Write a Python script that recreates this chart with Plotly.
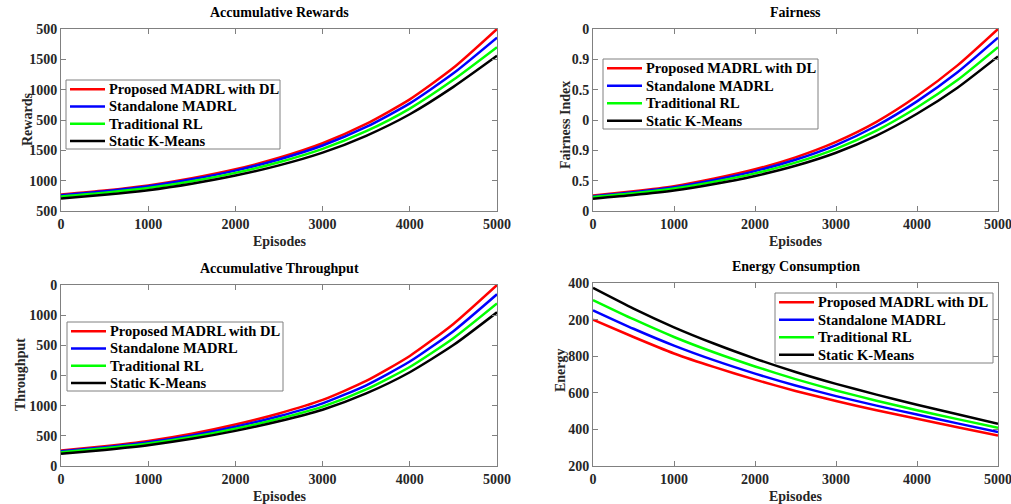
import plotly.graph_objects as go

episodes = [0, 500, 1000, 1500, 2000, 2500, 3000, 3500, 4000, 4500, 5000]
series_names = ["Proposed MADRL with DL", "Standalone MADRL", "Traditional RL", "Static K-Means"]
colors = ["#ff0000", "#0000ff", "#00ff00", "#000000"]

# Accumulative Rewards
rewards_proposed = [772, 838, 922, 1040, 1188, 1377, 1617, 1935, 2340, 2860, 3500]
rewards_standalone = [761, 826, 907, 1022, 1166, 1350, 1580, 1885, 2275, 2770, 3358]
rewards_traditional = [740, 802, 880, 990, 1128, 1303, 1523, 1815, 2188, 2662, 3200]
rewards_kmeans = [707, 767, 843, 950, 1084, 1252, 1462, 1740, 2095, 2546, 3058]
rewards_ticks = [500, 1000, 1500, 2000, 2500, 3000, 3500]
rewards_ticktext = ["500", "1000", "1500", "500", "1000", "1500", "500"]

# Fairness
fair_proposed = [0.102, 0.130, 0.164, 0.214, 0.275, 0.354, 0.456, 0.588, 0.758, 0.960, 1.200]
fair_standalone = [0.098, 0.124, 0.157, 0.205, 0.263, 0.338, 0.435, 0.562, 0.723, 0.915, 1.143]
fair_traditional = [0.092, 0.117, 0.148, 0.193, 0.248, 0.319, 0.410, 0.530, 0.682, 0.863, 1.080]
fair_kmeans = [0.081, 0.105, 0.135, 0.178, 0.231, 0.298, 0.384, 0.497, 0.641, 0.813, 1.019]
fair_ticks = [0, 0.2, 0.4, 0.6, 0.8, 1.0, 1.2]
fair_ticktext = ["0", "0.5", "0.9", "0", "0.5", "0.9", "0"]

# Accumulative Throughput
thr_proposed = [255, 327, 414, 534, 687, 870, 1095, 1410, 1824, 2355, 3000]
thr_standalone = [246, 312, 393, 507, 651, 825, 1038, 1338, 1731, 2235, 2847]
thr_traditional = [228, 294, 372, 480, 618, 783, 984, 1269, 1641, 2118, 2694]
thr_kmeans = [201, 267, 345, 450, 582, 741, 933, 1203, 1554, 2004, 2547]
thr_ticks = [0, 500, 1000, 1500, 2000, 2500, 3000]
thr_ticktext = ["0", "500", "1000", "0", "500", "1000", "0"]

# Energy Consumption
energy_proposed = [1000, 905, 815, 740, 672, 610, 555, 505, 458, 412, 366]
energy_standalone = [1051, 950, 858, 777, 705, 640, 582, 530, 481, 433, 385]
energy_traditional = [1107, 1002, 905, 820, 744, 675, 613, 557, 505, 456, 409]
energy_kmeans = [1173, 1060, 958, 868, 787, 714, 649, 590, 535, 483, 431]
energy_ticks = [200, 400, 600, 800, 1000, 1200]
energy_ticktext = ["200", "400", "600", "800", "200", "400"]

x_ticks = [0, 1000, 2000, 3000, 4000, 5000]

W, H = 1011, 504
FONT = "Liberation Serif"

panels = [
    dict(title="Accumulative Rewards", ylabel="Rewards",
         data=[rewards_proposed, rewards_standalone, rewards_traditional, rewards_kmeans],
         ticks=rewards_ticks, ticktext=rewards_ticktext, yr=[500, 3500],
         px=(61, 497), py=(29, 211), leg=(66, 80, 280, 149), ytx=(27, 120), by=241),
    dict(title="Fairness", ylabel="Fairness Index",
         data=[fair_proposed, fair_standalone, fair_traditional, fair_kmeans],
         ticks=fair_ticks, ticktext=fair_ticktext, yr=[0, 1.2],
         px=(593, 998), py=(29, 211), leg=(603, 59, 818, 129), ytx=(565, 125), by=241),
    dict(title="Accumulative Throughput", ylabel="Throughput",
         data=[thr_proposed, thr_standalone, thr_traditional, thr_kmeans],
         ticks=thr_ticks, ticktext=thr_ticktext, yr=[0, 3000],
         px=(61, 497), py=(285, 466), leg=(67, 322, 283, 391), ytx=(20, 375), by=496),
    dict(title="Energy Consumption", ylabel="Energy",
         data=[energy_proposed, energy_standalone, energy_traditional, energy_kmeans],
         ticks=energy_ticks, ticktext=energy_ticktext, yr=[200, 1200],
         px=(593, 998), py=(283, 466), leg=(775, 293, 993, 363), ytx=(560, 370), by=496),
]


def fx(px):
    return px / W


def fy(py):
    return 1 - py / H


fig = go.Figure()
annotations = []
shapes = []
layout = dict(width=W, height=H, margin=dict(l=0, r=0, t=0, b=0, autoexpand=False),
              paper_bgcolor="white", plot_bgcolor="white", showlegend=False)

tickfont = dict(family=FONT, size=14, color="#262626", weight="bold")
axis_common = dict(showline=True, linecolor="#808080", linewidth=1, mirror="ticks", ticks="inside", ticklen=5,
                   tickcolor="#808080", showgrid=False, zeroline=False, tickfont=tickfont, automargin=False,
                   ticklabeloverflow="allow")

for i, p in enumerate(panels):
    n = i + 1
    xa = "x" if n == 1 else f"x{n}"
    ya = "y" if n == 1 else f"y{n}"
    for k in range(4):
        fig.add_trace(go.Scatter(x=episodes, y=p["data"][k], mode="lines", name=series_names[k],
                                 line=dict(color=colors[k], width=2.5, shape="spline", smoothing=0.6),
                                 xaxis=xa, yaxis=ya))
    x0, x1 = p["px"]
    y0, y1 = p["py"]
    layout["xaxis" if n == 1 else f"xaxis{n}"] = dict(
        domain=[fx(x0), fx(x1)], anchor=ya, range=[0, 5000], tickvals=x_ticks,
        ticktext=[str(v) for v in x_ticks], **axis_common)
    layout["yaxis" if n == 1 else f"yaxis{n}"] = dict(
        domain=[fy(y1), fy(y0)], anchor=xa, range=p["yr"], tickvals=p["ticks"],
        ticktext=p["ticktext"], **axis_common)

    cx = (x0 + x1) / 2
    annotations.append(dict(text=p["title"], x=fx(cx), y=fy(y0 - 17), xref="paper", yref="paper",
                            showarrow=False, xanchor="center", yanchor="middle",
                            font=dict(family=FONT, size=14, color="#000000", weight="bold")))
    annotations.append(dict(text="Episodes", x=fx(cx), y=fy(p["by"]), xref="paper", yref="paper",
                            showarrow=False, xanchor="center", yanchor="middle",
                            font=dict(family=FONT, size=14, color="#262626", weight="bold")))
    annotations.append(dict(text=p["ylabel"], x=fx(p["ytx"][0]), y=fy(p["ytx"][1]), xref="paper",
                            yref="paper", showarrow=False, textangle=-90, xanchor="center", yanchor="middle",
                            font=dict(family=FONT, size=14, color="#262626", weight="bold")))

    # legend drawn as box + line samples + text
    lx0, ly0, lx1, ly1 = p["leg"]
    shapes.append(dict(type="rect", xref="paper", yref="paper", x0=fx(lx0), x1=fx(lx1), y0=fy(ly1), y1=fy(ly0),
                       line=dict(color="#808080", width=1), fillcolor="white", layer="above"))
    row_h = (ly1 - ly0) / 4.0
    for k in range(4):
        ry = ly0 + row_h * (k + 0.5) + 0.5
        shapes.append(dict(type="line", xref="paper", yref="paper", x0=fx(lx0 + 4), x1=fx(lx0 + 39),
                           y0=fy(ry), y1=fy(ry), line=dict(color=colors[k], width=2.5), layer="above"))
        annotations.append(dict(text=series_names[k], x=fx(lx0 + 41), y=fy(ry), xref="paper", yref="paper",
                                showarrow=False, xanchor="left", yanchor="middle",
                                font=dict(family=FONT, size=14.5, color="#000000", weight="bold")))

layout["annotations"] = annotations
layout["shapes"] = shapes
fig.update_layout(**layout)
fig.write_html("out.html", config={"displayModeBar": False},
               post_script="document.body.style.margin='0px';")
